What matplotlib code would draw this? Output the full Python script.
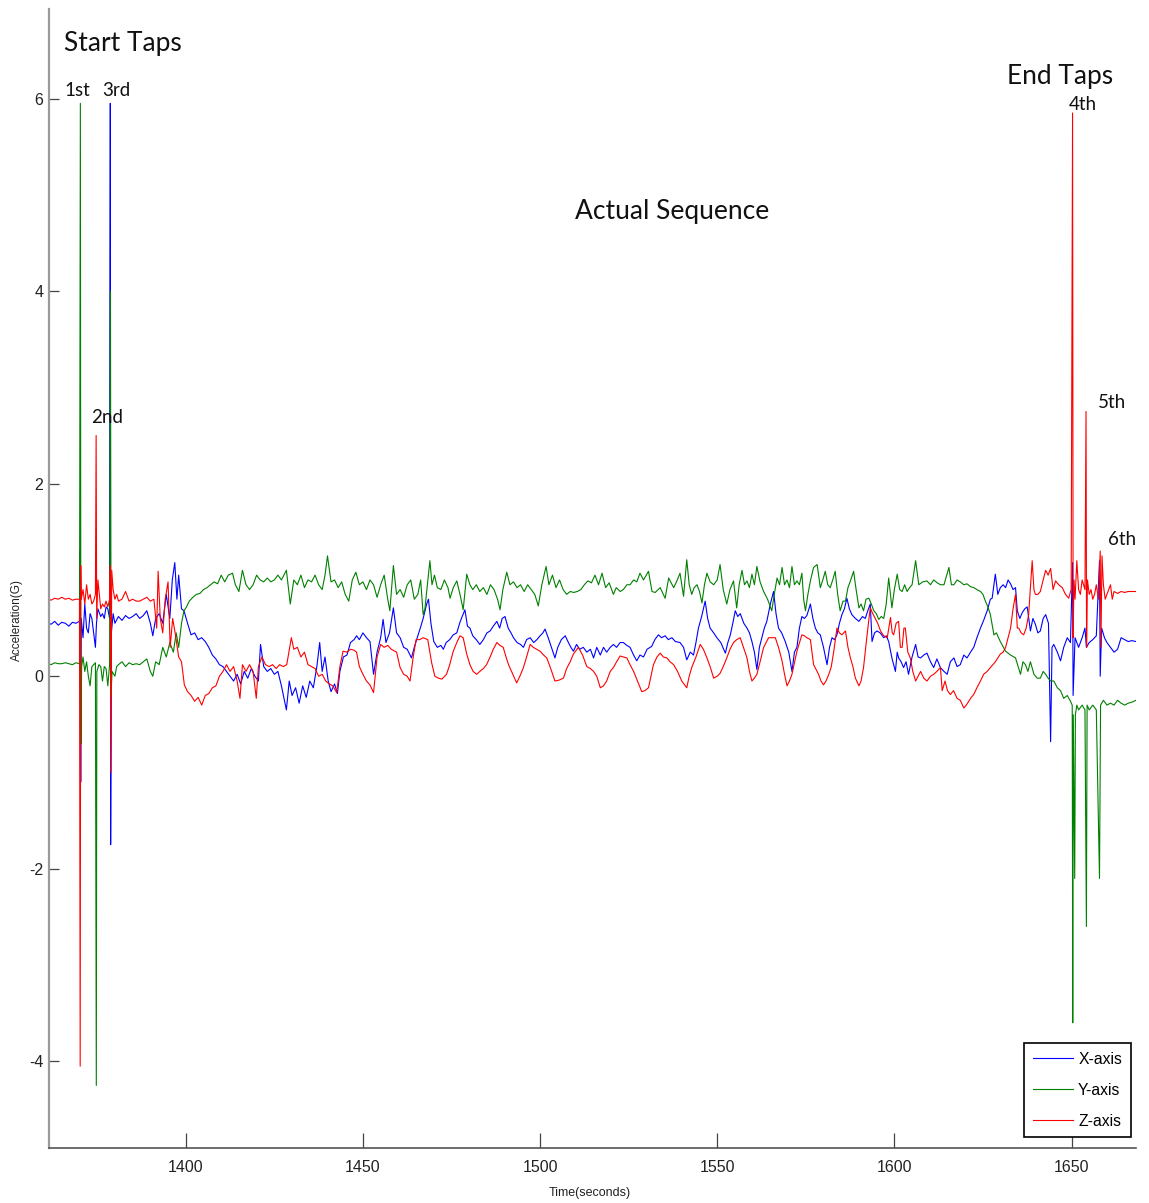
import numpy as np
import matplotlib
matplotlib.use("Agg")
import matplotlib.pyplot as plt

plt.rcParams["axes.unicode_minus"] = False

# Accelerometer readings (time in seconds, acceleration in G) per axis
x_readings = [
    (1361.3, 0.55), (1362, 0.54), (1363, 0.57), (1364, 0.53), (1365, 0.56), (1366, 0.55), (1367, 0.52),
    (1368, 0.56), (1369, 0.55), (1370, 0.57), (1370.2, 1.30), (1370.35, -1.10), (1370.5, 0.60),
    (1371, 0.40), (1371.5, 0.75), (1372, 0.50), (1372.5, 0.45), (1373, 0.65), (1373.5, 0.60),
    (1374, 0.45), (1374.5, 0.30), (1374.8, 0.55), (1375.2, 0.70), (1376, 0.62), (1376.5, 0.65),
    (1377, 0.60), (1377.5, 0.72), (1378, 0.70), (1378.5, 0.60), (1378.7, 5.95), (1378.8, -1.75),
    (1379, 0.45), (1379.5, 0.65), (1380, 0.55), (1381, 0.62), (1382, 0.58), (1383, 0.63), (1384, 0.60),
    (1385, 0.62), (1386, 0.65), (1387, 0.60), (1388, 0.63), (1389, 0.68), (1390, 0.55), (1390.7, 0.42),
    (1391.5, 0.60), (1392.5, 0.65), (1393.5, 0.55), (1394.5, 0.85), (1395.5, 0.60), (1396.2, 1.00),
    (1396.9, 1.18), (1397.5, 0.80), (1398, 1.05), (1398.8, 0.70), (1399.5, 0.68), (1400.5, 0.55),
    (1401.5, 0.43), (1402.5, 0.45), (1403.5, 0.38), (1404.5, 0.40), (1405.5, 0.36), (1406.5, 0.30),
    (1407.5, 0.22), (1408.5, 0.18), (1409.5, 0.12), (1410.5, 0.10), (1411.5, 0.05), (1412.5, 0.00),
    (1413.5, -0.05), (1414.5, 0.02), (1415.5, -0.08), (1416.5, 0.05), (1417.5, -0.02), (1418.5, 0.08),
    (1419.5, 0.00), (1420.5, -0.05), (1421.1, 0.33), (1422, 0.10), (1423, 0.05), (1424, 0.08),
    (1425, 0.02), (1426, 0.05), (1427, -0.10), (1428.4, -0.35), (1429.2, -0.05), (1430, -0.20),
    (1431, -0.12), (1432, -0.28), (1433, -0.10), (1434, -0.22), (1435, -0.05), (1436, -0.12),
    (1437, 0.10), (1437.8, 0.35), (1438.5, 0.05), (1439.3, 0.20), (1440.2, -0.05), (1441, -0.16),
    (1442, -0.08), (1442.8, -0.18), (1443.5, 0.05), (1444.5, 0.20), (1445.5, 0.22), (1446.5, 0.35),
    (1447.5, 0.38), (1448.2, 0.42), (1449, 0.38), (1450, 0.45), (1451, 0.40), (1452, 0.36),
    (1453, 0.02), (1454, 0.25), (1455, 0.40), (1455.7, 0.59), (1456.5, 0.35), (1457.5, 0.45),
    (1458.6, 0.71), (1459.5, 0.45), (1460.5, 0.40), (1461.5, 0.30), (1462.5, 0.28), (1463.7, 0.19),
    (1464.5, 0.30), (1465.5, 0.42), (1466.2, 0.50), (1467, 0.60), (1468, 0.75), (1468.5, 0.80),
    (1469.2, 0.55), (1470, 0.36), (1471, 0.30), (1472, 0.32), (1472.7, 0.28), (1473.5, 0.35),
    (1474.5, 0.38), (1475.5, 0.43), (1476.5, 0.45), (1477.3, 0.55), (1477.9, 0.61), (1478.8, 0.69),
    (1479.5, 0.52), (1480.2, 0.50), (1481, 0.42), (1482, 0.38), (1483, 0.33), (1484, 0.38),
    (1485, 0.45), (1485.9, 0.47), (1486.8, 0.52), (1487.8, 0.57), (1488.6, 0.50), (1489.3, 0.60),
    (1490.1, 0.62), (1491, 0.50), (1491.8, 0.45), (1492.5, 0.40), (1493.5, 0.35), (1494.5, 0.33),
    (1495.3, 0.30), (1496.2, 0.38), (1497.2, 0.40), (1498.2, 0.35), (1499.1, 0.38), (1500, 0.42),
    (1500.8, 0.45), (1501.4, 0.49), (1502.3, 0.40), (1503.2, 0.30), (1504.2, 0.19), (1505, 0.30),
    (1506, 0.38), (1507.1, 0.42), (1508, 0.35), (1508.7, 0.30), (1509.4, 0.26), (1510.3, 0.33),
    (1511.2, 0.28), (1512.2, 0.30), (1513.2, 0.25), (1514.2, 0.28), (1515.1, 0.19), (1516, 0.30),
    (1517, 0.22), (1517.9, 0.30), (1518.8, 0.25), (1519.8, 0.30), (1520.7, 0.33), (1521.6, 0.30),
    (1522.6, 0.35), (1523.5, 0.35), (1524.5, 0.32), (1525.4, 0.30), (1526.4, 0.22), (1527.3, 0.16),
    (1528.2, 0.22), (1529.2, 0.20), (1530.2, 0.28), (1531.5, 0.31), (1532.4, 0.38), (1533.4, 0.43),
    (1534.3, 0.40), (1535.3, 0.42), (1536.2, 0.38), (1537.2, 0.40), (1538.2, 0.36), (1539.5, 0.35),
    (1540.5, 0.30), (1541.4, 0.17), (1542.4, 0.25), (1543.3, 0.22), (1544.0, 0.35), (1544.7, 0.50),
    (1545.6, 0.62), (1546.6, 0.78), (1547.3, 0.60), (1548, 0.50), (1549, 0.45), (1549.9, 0.40),
    (1551, 0.35), (1552.3, 0.24), (1553, 0.35), (1553.7, 0.43), (1554.4, 0.55), (1555.1, 0.68),
    (1555.8, 0.62), (1556.5, 0.65), (1557.5, 0.55), (1558.4, 0.50), (1559.1, 0.45), (1559.8, 0.36),
    (1560.5, 0.25), (1561.2, 0.07), (1561.9, 0.30), (1562.6, 0.40), (1563.3, 0.50), (1564, 0.57),
    (1565, 0.75), (1565.9, 0.88), (1566.6, 0.65), (1567.3, 0.50), (1568.2, 0.45), (1569.2, 0.36),
    (1570.2, 0.25), (1571.1, 0.05), (1571.8, 0.25), (1572.5, 0.30), (1573.2, 0.50), (1573.9, 0.62),
    (1574.6, 0.60), (1575.3, 0.63), (1576.3, 0.75), (1577, 0.60), (1577.7, 0.50), (1578.4, 0.45),
    (1579.1, 0.43), (1580, 0.30), (1581, 0.12), (1581.7, 0.30), (1582.4, 0.40), (1583.1, 0.38),
    (1583.8, 0.43), (1584.5, 0.55), (1585.2, 0.64), (1585.9, 0.70), (1586.6, 0.81), (1587.3, 0.70),
    (1588, 0.64), (1589, 0.60), (1590, 0.57), (1591, 0.62), (1591.8, 0.60), (1592.5, 0.68),
    (1593.2, 0.75), (1593.7, 0.36), (1594.4, 0.45), (1595.1, 0.47), (1596, 0.45), (1597, 0.40),
    (1597.7, 0.42), (1598.4, 0.36), (1599.3, 0.19), (1600.3, 0.05), (1600.8, 0.25), (1601.2, 0.19),
    (1601.9, 0.15), (1602.6, 0.09), (1603.3, 0.15), (1604, 0.02), (1605, 0.20), (1606, 0.33),
    (1606.7, 0.20), (1607.4, 0.19), (1608.3, 0.22), (1609.2, 0.24), (1610.2, 0.15), (1611.1, 0.09),
    (1612, 0.18), (1613, 0.09), (1614, 0.05), (1614.9, 0.02), (1615.8, 0.15), (1616.8, 0.19),
    (1617.7, 0.10), (1618.6, 0.12), (1619.6, 0.22), (1620.5, 0.19), (1621.5, 0.25), (1622.4, 0.30),
    (1623.3, 0.40), (1624.3, 0.50), (1625.2, 0.58), (1626.2, 0.68), (1627.1, 0.80), (1627.6, 0.81),
    (1628.5, 1.06), (1629.2, 0.85), (1629.9, 0.92), (1630.7, 0.95), (1631.4, 0.92), (1632.1, 1.00),
    (1632.8, 0.96), (1633.5, 0.90), (1634.2, 0.92), (1634.7, 0.68), (1635.4, 0.60), (1636.1, 0.66),
    (1636.8, 0.70), (1637.5, 0.72), (1638.4, 0.47), (1639.1, 0.60), (1639.8, 0.54), (1640.5, 0.45),
    (1641.2, 0.47), (1642, 0.60), (1642.7, 0.64), (1643.5, 0.55), (1644.1, -0.68), (1644.5, 0.30),
    (1645, 0.33), (1646, 0.25), (1646.9, 0.16), (1647.8, 0.30), (1648.8, 0.40), (1649.7, 0.35),
    (1650.3, 1.18), (1650.45, -0.20), (1651, 0.40), (1652, 0.30), (1653, 0.40), (1653.8, 0.50),
    (1654.2, 0.30), (1655, 0.35), (1656, 0.38), (1657, 0.42), (1657.9, 1.20), (1658.1, 0.00),
    (1658.5, 0.50), (1659.3, 0.40), (1660, 0.35), (1661, 0.30), (1662, 0.25), (1663, 0.28),
    (1664, 0.40), (1665, 0.38), (1666, 0.36), (1667, 0.37), (1668.2, 0.36),
]

y_readings = [
    (1361.3, 0.13), (1362, 0.12), (1363, 0.14), (1364, 0.13), (1365, 0.13), (1366, 0.14), (1367, 0.13),
    (1368, 0.12), (1369, 0.14), (1370, 0.13), (1370.25, 5.95), (1370.4, -0.70), (1370.6, 0.10),
    (1371, 0.20), (1371.5, 0.05), (1372, 0.15), (1372.5, 0.00), (1373, -0.10), (1373.5, 0.10),
    (1374, 0.12), (1374.5, 0.14), (1374.75, -4.25), (1374.9, 0.05), (1375.5, 0.12), (1376, 0.10),
    (1376.5, -0.05), (1377, 0.10), (1377.5, 0.08), (1378, -0.10), (1378.5, 0.12), (1378.75, 4.00),
    (1378.9, -0.20), (1379.2, 0.05), (1380, 0.00), (1380.5, 0.10), (1381, 0.12), (1382, 0.15),
    (1383, 0.10), (1384, 0.14), (1385, 0.12), (1386, 0.13), (1387, 0.12), (1388, 0.15), (1389, 0.18),
    (1390, 0.05), (1390.7, 0.00), (1391.5, 0.15), (1392.5, 0.12), (1393.5, 0.30), (1394.5, 0.20),
    (1395.5, 0.35), (1396.5, 0.25), (1397.3, 0.45), (1398, 0.30), (1398.8, 0.55), (1399.5, 0.68),
    (1400.2, 0.72), (1401, 0.78), (1402, 0.82), (1403, 0.85), (1404, 0.86), (1405, 0.90), (1406, 0.92),
    (1407, 0.95), (1408, 0.98), (1409, 0.96), (1410, 1.05), (1411, 0.98), (1412, 1.05), (1413.2, 1.07),
    (1414, 0.95), (1415, 0.88), (1416, 1.10), (1417, 0.95), (1418, 0.90), (1419, 0.95), (1420, 1.05),
    (1421, 1.00), (1422, 0.98), (1423, 1.02), (1424, 0.98), (1425, 1.00), (1426, 1.05), (1427, 1.00),
    (1428.4, 1.10), (1429.5, 0.75), (1430.5, 1.00), (1431.5, 0.95), (1432.5, 1.05), (1433.5, 0.92),
    (1434.5, 1.00), (1435.5, 0.98), (1436.5, 1.05), (1437.5, 0.95), (1438.5, 0.90), (1439.3, 1.05),
    (1440, 1.25), (1441, 0.98), (1442, 1.00), (1443, 0.92), (1444, 0.98), (1445, 0.85), (1446, 0.78),
    (1447, 1.00), (1448, 1.08), (1449, 0.95), (1450, 0.98), (1451, 0.90), (1452, 1.00), (1453, 0.95),
    (1454, 0.82), (1455, 0.95), (1456, 1.05), (1457, 0.80), (1457.6, 0.68), (1458.6, 1.15),
    (1459.5, 0.85), (1460.5, 0.90), (1461.5, 0.82), (1462.5, 0.95), (1463.5, 1.00), (1464.5, 0.80),
    (1465.5, 0.85), (1466.3, 1.00), (1467, 0.64), (1467.5, 0.70), (1468.9, 1.20), (1469.5, 0.95),
    (1470.2, 1.05), (1471, 0.92), (1472, 0.90), (1473, 1.00), (1474, 0.92), (1474.6, 0.81),
    (1475.5, 0.92), (1476.5, 0.99), (1477.4, 0.85), (1478.3, 0.69), (1479.3, 1.06), (1480.2, 0.95),
    (1481, 0.90), (1482, 0.95), (1483, 0.88), (1484, 0.92), (1485, 0.85), (1486, 0.95), (1487, 0.90),
    (1488, 0.80), (1488.7, 0.69), (1489.5, 0.90), (1490.6, 1.08), (1491.5, 0.95), (1492.5, 0.98),
    (1493.5, 0.92), (1494.5, 0.95), (1495.5, 0.88), (1496.5, 0.95), (1497.5, 0.90), (1498.5, 0.85),
    (1499.5, 0.73), (1500.5, 0.95), (1501.7, 1.14), (1502.5, 0.95), (1503.5, 1.05), (1504.5, 0.92),
    (1505.5, 1.00), (1506.5, 0.90), (1507.5, 0.85), (1508.5, 0.88), (1509.5, 0.87), (1510.5, 0.88),
    (1511.5, 0.90), (1512.5, 0.95), (1513.5, 0.99), (1514.5, 0.97), (1515.5, 1.05), (1516.5, 0.95),
    (1517.5, 1.07), (1518.5, 0.92), (1519.5, 0.97), (1520.7, 0.85), (1521.5, 0.92), (1522.6, 0.88),
    (1523.5, 0.90), (1524.5, 0.95), (1525.4, 0.95), (1526.4, 1.00), (1527.3, 0.98), (1528.2, 1.07),
    (1529.2, 1.00), (1530.6, 1.09), (1531.6, 0.88), (1532.5, 0.87), (1533.9, 0.92), (1535.3, 0.81),
    (1536.3, 1.02), (1537.7, 0.92), (1538.5, 0.98), (1539.5, 1.07), (1540.5, 0.83), (1541.4, 1.21),
    (1542.1, 0.95), (1542.8, 0.85), (1543.5, 0.92), (1544.3, 0.95), (1545, 0.88), (1545.7, 0.76),
    (1546.4, 0.95), (1547.1, 1.07), (1548, 0.98), (1549, 0.95), (1550, 1.00), (1550.8, 1.16),
    (1551.7, 0.90), (1552.7, 0.75), (1553.6, 0.90), (1554.6, 0.99), (1555.5, 0.71), (1556.2, 0.95),
    (1557, 1.10), (1557.7, 0.95), (1558.4, 0.99), (1559.1, 0.92), (1559.8, 1.06), (1560.5, 0.95),
    (1561.2, 1.14), (1562.1, 0.98), (1563.1, 0.88), (1564.2, 0.80), (1565.4, 0.68), (1566.1, 0.85),
    (1566.9, 1.02), (1567.6, 0.95), (1568.3, 1.13), (1569, 0.95), (1569.7, 1.00), (1570.4, 0.92),
    (1571.1, 1.14), (1571.8, 0.95), (1572.5, 0.99), (1573.2, 0.95), (1573.9, 1.07), (1574.4, 0.80),
    (1574.9, 0.68), (1575.6, 0.85), (1576.3, 0.99), (1577.2, 1.13), (1578.2, 1.16), (1579.1, 0.92),
    (1579.8, 1.00), (1580.5, 1.09), (1581.2, 0.95), (1581.9, 0.92), (1582.6, 1.00), (1583.3, 1.09),
    (1584, 0.85), (1584.7, 0.68), (1585.5, 0.78), (1586.2, 0.78), (1586.9, 0.92), (1587.6, 0.99),
    (1588.5, 1.09), (1589.2, 0.90), (1590, 0.71), (1590.6, 0.75), (1591.3, 0.68), (1592, 0.80),
    (1592.8, 0.81), (1593.5, 0.75), (1594.2, 0.68), (1594.9, 0.65), (1595.6, 0.59), (1596.3, 0.62),
    (1597, 0.60), (1597.7, 0.75), (1598.4, 1.02), (1598.9, 0.85), (1599.3, 0.71), (1600, 0.90),
    (1600.8, 1.06), (1601.5, 0.90), (1602.2, 0.88), (1602.9, 0.95), (1603.6, 0.88), (1604.3, 0.92),
    (1605, 0.95), (1606, 1.20), (1606.9, 0.95), (1608, 0.98), (1609.2, 0.99), (1610.2, 0.95),
    (1611.1, 1.00), (1612.1, 0.97), (1613, 0.95), (1614, 0.95), (1615.4, 1.13), (1616.1, 0.95),
    (1616.8, 0.95), (1617.7, 1.00), (1618.6, 0.98), (1619.6, 0.95), (1620.5, 0.96), (1621.5, 0.93),
    (1622.4, 0.92), (1623.3, 0.90), (1624.3, 0.88), (1625, 0.85), (1625.7, 0.78), (1626.4, 0.72),
    (1627.1, 0.64), (1628.1, 0.43), (1628.8, 0.45), (1629.9, 0.36), (1631.4, 0.26), (1632.8, 0.22),
    (1634.2, 0.19), (1635.6, 0.02), (1636.3, 0.15), (1637, 0.12), (1637.7, 0.05), (1638.4, 0.15),
    (1639.4, 0.02), (1640.3, -0.02), (1641.2, -0.02), (1642, 0.05), (1642.7, 0.02), (1643.4, -0.02),
    (1644.1, -0.05), (1645, -0.05), (1646, -0.12), (1646.9, -0.15), (1647.8, -0.23), (1648.8, -0.20),
    (1649.7, -0.26), (1650.2, -0.30), (1650.35, -3.60), (1650.5, -0.40), (1650.9, -2.10),
    (1651.1, -0.40), (1651.5, -0.30), (1652, -0.35), (1653, -0.30), (1653.8, -0.35), (1654.2, -2.60),
    (1654.4, -0.30), (1655, -0.35), (1656, -0.30), (1657, -0.35), (1657.9, -2.10), (1658.2, -0.30),
    (1659, -0.25), (1660, -0.30), (1661, -0.28), (1662, -0.30), (1663, -0.25), (1664, -0.28),
    (1665, -0.30), (1666, -0.28), (1667, -0.27), (1668.2, -0.25),
]

z_readings = [
    (1361.3, 0.80), (1362, 0.79), (1363, 0.81), (1364, 0.80), (1365, 0.82), (1366, 0.80), (1367, 0.81),
    (1368, 0.79), (1369, 0.80), (1370, 0.80), (1370.2, -4.05), (1370.35, 1.15), (1370.5, 0.80),
    (1371, 0.90), (1371.5, 0.75), (1372, 0.95), (1372.5, 0.80), (1373, 0.85), (1373.5, 0.75),
    (1374, 0.78), (1374.5, 0.85), (1374.7, 2.50), (1374.85, 0.60), (1375.2, 1.00), (1375.6, 0.85),
    (1376, 0.70), (1376.5, 0.75), (1377, 0.72), (1377.5, 0.78), (1378, 0.72), (1378.5, 0.80),
    (1378.7, 1.15), (1378.85, -1.00), (1379.1, 1.10), (1379.5, 0.90), (1380, 0.80), (1380.5, 0.85),
    (1381, 0.78), (1382, 0.80), (1383, 0.88), (1384, 0.78), (1385, 0.80), (1386, 0.78), (1387, 0.78),
    (1388, 0.80), (1389, 0.82), (1390, 0.78), (1391, 0.80), (1391.8, 0.50), (1392.2, 1.09),
    (1392.8, 0.60), (1393.5, 0.45), (1394.2, 0.80), (1395, 0.98), (1395.6, 0.30), (1396.3, 0.60),
    (1397, 0.45), (1398, 0.20), (1398.8, 0.15), (1399.6, -0.09), (1400.5, -0.16), (1401.5, -0.20),
    (1402.5, -0.26), (1403.5, -0.22), (1404.5, -0.30), (1405.5, -0.20), (1406.5, -0.18),
    (1407.5, -0.12), (1408.5, -0.10), (1409.5, 0.00), (1410.5, 0.05), (1411.5, 0.12), (1412.5, 0.05),
    (1413.5, 0.10), (1414.5, -0.05), (1415.3, -0.23), (1416, 0.12), (1417, 0.05), (1418, 0.12),
    (1419, 0.05), (1419.9, -0.23), (1420.5, 0.10), (1421.5, 0.20), (1422.5, 0.12), (1423.5, 0.10),
    (1424.5, 0.12), (1425.5, 0.08), (1426.5, 0.12), (1427.5, 0.10), (1428.5, 0.12), (1429.8, 0.40),
    (1430.5, 0.28), (1431.5, 0.30), (1432.5, 0.20), (1433.5, 0.25), (1434.5, 0.12), (1435.5, 0.10),
    (1436.5, 0.08), (1437.5, 0.00), (1438.5, 0.02), (1439.5, -0.05), (1440.5, -0.08), (1441.5, -0.10),
    (1442.6, -0.17), (1443.5, 0.10), (1444.4, 0.26), (1445.5, 0.25), (1446.5, 0.28), (1447.5, 0.27),
    (1448.2, 0.25), (1449, 0.10), (1450, 0.02), (1451, -0.05), (1452, -0.09), (1453, -0.17),
    (1454, 0.20), (1455, 0.33), (1456, 0.30), (1457, 0.32), (1458, 0.28), (1459.5, 0.25),
    (1460.5, 0.09), (1461.5, 0.02), (1462.5, 0.00), (1463.3, -0.05), (1464.2, 0.20), (1465, 0.38),
    (1466, 0.38), (1467, 0.40), (1468.3, 0.38), (1469.4, 0.14), (1470.3, 0.00), (1471.3, -0.02),
    (1472.3, -0.03), (1473.6, 0.02), (1474.5, 0.12), (1475.5, 0.26), (1476.5, 0.35), (1477.4, 0.42),
    (1478.3, 0.40), (1479.3, 0.23), (1480.2, 0.12), (1481.1, 0.05), (1482.1, 0.02), (1483, 0.05),
    (1484, 0.08), (1484.9, 0.12), (1485.9, 0.20), (1486.8, 0.28), (1487.8, 0.35), (1488.7, 0.32),
    (1489.6, 0.30), (1490.4, 0.20), (1491.1, 0.12), (1492.2, 0.03), (1493.4, -0.07), (1494.3, 0.00),
    (1495.3, 0.09), (1496.2, 0.20), (1497.2, 0.33), (1498.1, 0.30), (1499, 0.28), (1500, 0.26),
    (1501, 0.22), (1501.9, 0.19), (1503, 0.08), (1504.2, -0.05), (1505.4, -0.04), (1506.6, -0.02),
    (1507.5, 0.08), (1508.5, 0.15), (1509.4, 0.23), (1510.8, 0.30), (1512, 0.22), (1513.2, 0.10),
    (1514.2, 0.08), (1515.1, 0.05), (1516, 0.00), (1517, -0.12), (1517.9, -0.10), (1518.8, -0.05),
    (1519.8, 0.05), (1520.7, 0.09), (1521.6, 0.15), (1522.6, 0.21), (1523.5, 0.20), (1524.5, 0.19),
    (1525.4, 0.12), (1526.4, 0.05), (1527.5, -0.05), (1528.7, -0.16), (1529.6, -0.15), (1530.6, -0.12),
    (1532, 0.12), (1533, 0.20), (1533.9, 0.24), (1534.8, 0.20), (1535.8, 0.19), (1536.7, 0.15),
    (1537.7, 0.12), (1538.8, 0.05), (1540, -0.05), (1541.4, -0.12), (1542.1, 0.00), (1542.8, 0.09),
    (1544, 0.20), (1545.2, 0.33), (1546.1, 0.28), (1547.1, 0.19), (1548, 0.10), (1549, -0.02),
    (1550, 0.00), (1550.8, 0.03), (1551.7, 0.10), (1552.7, 0.19), (1553.6, 0.28), (1554.6, 0.35),
    (1555.5, 0.38), (1556.5, 0.40), (1557.4, 0.30), (1558.4, 0.19), (1559.1, 0.05), (1559.8, -0.05),
    (1560.5, -0.02), (1561.2, 0.02), (1562.1, 0.15), (1563.1, 0.30), (1564.5, 0.40), (1565.5, 0.40),
    (1566.4, 0.40), (1567.3, 0.30), (1568.3, 0.16), (1569, 0.02), (1569.7, -0.10), (1570.4, -0.05),
    (1571.1, 0.02), (1572.5, 0.26), (1573.9, 0.43), (1574.6, 0.42), (1575.3, 0.40), (1576.3, 0.38),
    (1577.2, 0.12), (1578.6, 0.02), (1579.3, -0.05), (1580, -0.09), (1580.7, -0.05), (1581.5, 0.02),
    (1582.2, 0.10), (1582.9, 0.26), (1583.8, 0.50), (1584.5, 0.45), (1585.2, 0.43), (1586.2, 0.47),
    (1586.9, 0.30), (1587.6, 0.19), (1588.3, 0.10), (1589, -0.02), (1590, -0.10), (1590.6, -0.05),
    (1591.3, 0.09), (1592.3, 0.43), (1593.2, 0.71), (1593.9, 0.65), (1594.6, 0.60), (1595.3, 0.55),
    (1596.1, 0.47), (1597, 0.42), (1598, 0.40), (1598.9, 0.61), (1599.4, 0.45), (1599.8, 0.43),
    (1600.5, 0.55), (1601.2, 0.57), (1601.7, 0.30), (1602.2, 0.30), (1602.7, 0.50), (1603.1, 0.50),
    (1603.8, 0.25), (1604.5, 0.19), (1605.2, 0.05), (1606, -0.05), (1606.7, 0.00), (1607.4, 0.05),
    (1608.3, -0.02), (1609.2, -0.05), (1610.2, 0.00), (1611.1, 0.02), (1612, 0.05), (1613, 0.09),
    (1613.5, -0.15), (1614.3, -0.05), (1615, -0.15), (1615.8, -0.19), (1616.7, -0.15), (1617.7, -0.23),
    (1618.6, -0.25), (1619.6, -0.33), (1620.3, -0.30), (1621, -0.26), (1621.7, -0.22), (1622.4, -0.19),
    (1623.3, -0.12), (1624.3, -0.05), (1625.2, 0.02), (1626.2, 0.05), (1627.1, 0.09), (1628.5, 0.15),
    (1629.9, 0.23), (1630.7, 0.25), (1631.4, 0.30), (1632.1, 0.40), (1632.8, 0.50), (1633.5, 0.70),
    (1634.2, 0.85), (1634.7, 0.50), (1635.1, 0.50), (1635.8, 0.45), (1636.5, 0.43), (1637.2, 0.50),
    (1637.9, 0.64), (1638.9, 1.20), (1639.4, 0.90), (1639.8, 0.85), (1640.5, 0.85), (1641.2, 0.88),
    (1642, 1.00), (1642.7, 1.10), (1643.4, 1.05), (1644.1, 1.12), (1644.8, 0.90), (1645.5, 0.99),
    (1646.4, 0.95), (1647.4, 0.92), (1648.3, 0.85), (1649.2, 0.81), (1649.9, 0.90), (1650.3, 5.85),
    (1650.45, 0.40), (1650.7, 1.00), (1651, 0.80), (1651.5, 1.20), (1652, 0.90), (1652.5, 0.85),
    (1653, 1.00), (1653.8, 0.90), (1654.1, 2.75), (1654.25, 0.30), (1654.5, 1.00), (1655, 0.85),
    (1655.5, 0.90), (1656, 0.80), (1656.5, 0.85), (1657, 0.95), (1657.6, 0.80), (1658.1, 1.30),
    (1658.3, 0.30), (1658.6, 1.25), (1659, 0.95), (1659.5, 0.80), (1660, 0.85), (1661, 0.95),
    (1661.5, 0.80), (1662, 0.88), (1663, 0.86), (1664, 0.88), (1665, 0.87), (1666, 0.88),
    (1667, 0.88), (1668.2, 0.88),
]

series_names = ["X-axis", "Y-axis", "Z-axis"]
series_colors = ["#0000ff", "#008000", "#ff0000"]

x_ticks = [1400, 1450, 1500, 1550, 1600, 1650]
y_ticks = [-4, -2, 0, 2, 4, 6]

tap_labels = [("1st", 1369.3, 6.08), ("3rd", 1380.3, 6.08), ("2nd", 1377.8, 2.69),
              ("4th", 1653.1, 5.94), ("5th", 1661.3, 2.84), ("6th", 1664.4, 1.42)]
section_labels = [("Start Taps", 1365.6, 6.57, "left"), ("Actual Sequence", 1537.3, 4.83, "center"),
                  ("End Taps", 1646.9, 6.23, "center")]

axis_font = ["Liberation Sans", "DejaVu Sans"]
label_font = ["Lato", "DejaVu Sans"]

fig = plt.figure(figsize=(11.49, 12.03), dpi=100)
ax = fig.add_axes([0.04265, 0.04572, 0.94603, 0.94680])

for readings, name, color in zip([x_readings, y_readings, z_readings], series_names, series_colors):
    arr = np.array(readings)
    ax.plot(arr[:, 0], arr[:, 1], color=color, lw=0.8, label=name)

ax.set_xlim(1361.4, 1668.2)
ax.set_ylim(-4.90, 6.93)
ax.set_xticks(x_ticks)
ax.set_yticks(y_ticks)

for side in ("top", "right"):
    ax.spines[side].set_visible(False)
ax.spines["left"].set_color("#9a9a9a")
ax.spines["left"].set_linewidth(1.6)
ax.spines["bottom"].set_color("#555555")
ax.spines["bottom"].set_linewidth(1.2)

ax.tick_params(axis="x", direction="in", length=11, width=0.9, color="#444444", pad=9,
               labelsize=11.5)
ax.tick_params(axis="y", direction="in", length=7.5, width=0.9, color="#444444", pad=4,
               labelsize=11.5)
for lbl in ax.get_xticklabels() + ax.get_yticklabels():
    lbl.set_fontfamily(axis_font)
    lbl.set_color("#222222")

for text, t, v, ha in section_labels:
    ax.text(t, v, text, fontsize=19, family=label_font, ha=ha, va="center", color="#111111")
for text, t, v in tap_labels:
    ax.text(t, v, text, fontsize=13.5, family=label_font, ha="center", va="center", color="#111111")

fig.text(17 / 1149, 1 - 620 / 1203, "Acceleration(G)", rotation=90, ha="center", va="center",
         fontsize=8.5, family=axis_font, color="#222222")
fig.text(590 / 1149, 1 - 1193 / 1203, "Time(seconds)", ha="center", va="center",
         fontsize=9, family=axis_font, color="#222222")

leg = ax.legend(loc="upper left", bbox_to_anchor=(1024 / 1149, 1 - 1043 / 1203),
                bbox_transform=fig.transFigure, fancybox=False, framealpha=1,
                edgecolor="black", borderaxespad=0, handlelength=2.6, handletextpad=0.3,
                labelspacing=1.02, borderpad=0.55, prop={"family": axis_font, "size": 11.3})
leg.get_frame().set_linewidth(1.2)

fig.savefig("out.png", dpi=100)
